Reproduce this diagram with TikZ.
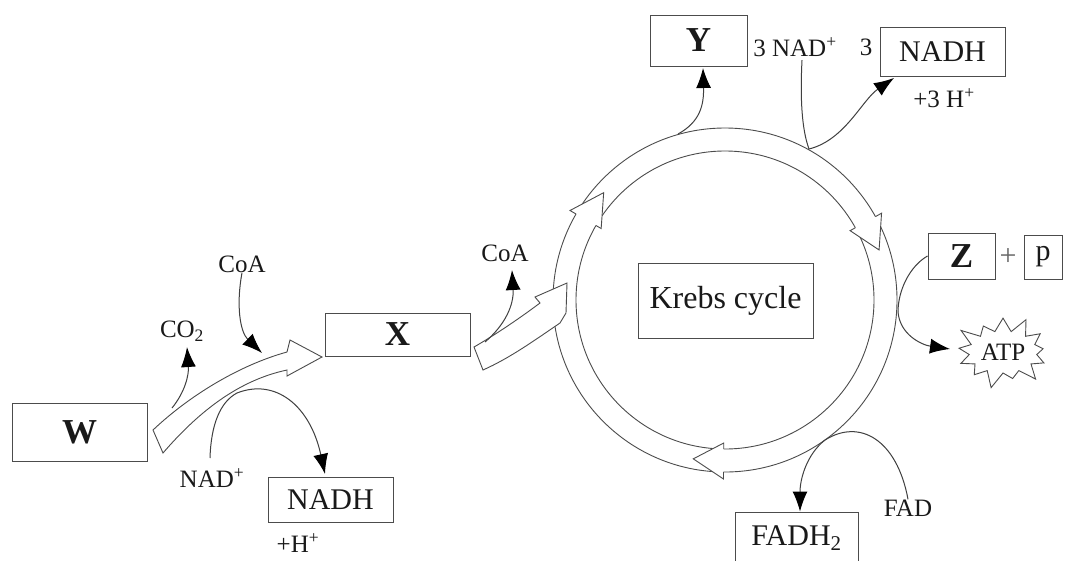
\documentclass[tikz,border=0pt]{standalone}
\usepackage{fontspec}
\setmainfont{Liberation Serif}
\usetikzlibrary{arrows.meta,shapes.symbols}
\begin{document}
\begin{tikzpicture}[x=1pt,y=-1pt,
  line width=0.9pt,
  box/.style={draw=black!70, line width=1pt, inner sep=0pt, text=black!90},
  bigbold/.style={font=\fontsize{35}{40}\selectfont\bfseries},
  bigtxt/.style={font=\fontsize{30}{36}\selectfont},
  smalltxt/.style={font=\fontsize{25}{30}\selectfont, text=black!90, inner sep=0pt},
  conn/.style={draw=black!75, line width=1pt},
  tip/.style={-{Latex[length=20pt,width=15pt,fill=black,color=black]}},
  blockarrow/.style={fill=white, draw=black!70, line width=0.9pt, line join=miter}
]
\useasboundingbox (0,0) rectangle (1065,560);
\fill[white] (0,0) rectangle (1065,560);

% ---------- boxes ----------
\node[box, bigbold, minimum width=135pt, minimum height=58pt] (W) at (79.5,432) {W};
\node[box, bigbold, minimum width=145pt, minimum height=43pt] (X) at (397.5,334.5) {X};
\node[box, bigbold, minimum width=97pt, minimum height=51pt] (Y) at (698.5,40.5) {Y};
\node[box, bigtxt, minimum width=125pt, minimum height=49pt] (NADHt) at (942.5,51.5) {NADH};
\node[box, bigtxt, minimum width=125pt, minimum height=45pt] (NADHb) at (330.5,499.5) {NADH};
\node[box, bigbold, minimum width=67pt, minimum height=46pt] (Z) at (961.5,256) {Z};
\node[box, bigtxt, minimum width=38pt, minimum height=44pt] (P) at (1043,257) {p};
\node[smalltxt, font=\fontsize{30}{36}\selectfont, text=black!60] (plus) at (1008,257) {+};
\node[box, font=\fontsize{32}{38}\selectfont, minimum width=175pt, minimum height=75pt] (K) at (725.5,300.5) {Krebs cycle};
\node[box, bigtxt, minimum width=123pt, minimum height=52pt] (FADH) at (796.5,538) {FADH\textsubscript{2}};

% ---------- labels ----------
\node[smalltxt] (co2) at (182,331) {CO\textsubscript{2}};
\node[smalltxt] (coa1) at (242,264) {CoA};
\node[smalltxt] (nadp) at (212,478) {NAD\textsuperscript{+}};
\node[smalltxt] (hp) at (298,543) {+H\textsuperscript{+}};
\node[smalltxt] (coa2) at (505,253) {CoA};
\node[smalltxt] (nad3) at (795,47) {3 NAD\textsuperscript{+}};
\node[smalltxt] (three) at (866,47) {3};
\node[smalltxt] (h3) at (944,98) {+3 H\textsuperscript{+}};
\node[smalltxt] (fad) at (908,508) {FAD};
\node[starburst, draw=black!70, fill=white, line width=0.9pt, starburst points=13,
      starburst point height=18pt, minimum width=104pt, minimum height=78pt,
      inner sep=0pt, font=\fontsize{25}{30}\selectfont, text=black!90] (ATP) at (1003,352) {ATP};

% ---------- W -> X block arrow ----------
\filldraw[blockarrow] (153,430) .. controls (190,395) and (240,365) .. (287,352)
  -- (290,340) -- (322,357) -- (287,376) -- (287,370)
  .. controls (240,380) and (200,410) .. (163,453) -- cycle;

% ---------- Krebs ring ----------
\coordinate (C) at (725,300);
\begin{scope}[shift={(C)}]
  \filldraw[fill=white, draw=black!70, line width=0.9pt, even odd rule]
    (0,0) circle[radius=172] (0,0) circle[radius=149];
  \foreach \b/\t in {210/221.5, 331/342, 90.5/101.3} {
    \filldraw[fill=white, draw=black!70, line width=0.9pt, line join=miter]
      (\b:149) -- (\b:143) -- (\t:162) -- (\b:179) -- (\b:172);
  }
\end{scope}

% ---------- X -> ring block arrow ----------
\filldraw[blockarrow] (474,347) .. controls (495,335) and (520,318) .. (540,303)
  -- (535,297) -- (567,283) -- (566,313) -- (560,323)
  .. controls (535,340) and (510,358) .. (483,370) -- cycle;

% ---------- connectors ----------
\coordinate (a1) at (172,408);
\coordinate (a1e) at (187,347);
\draw[conn,tip] (a1) .. controls (185,392) and (189,375) .. (a1e);

\coordinate (a2e) at (262,353);
\draw[conn,tip] (coa1.south) .. controls (236,305) and (240,332) .. (a2e);

\coordinate (a3) at (237,393);
\draw[conn] (210,458) .. controls (211,425) and (220,402) .. (a3);
\coordinate (a3e) at (325,474);
\draw[conn,tip] (a3) .. controls (275,378) and (310,405) .. (a3e);

\coordinate (a4) at (485,342);
\coordinate (a4e) at (512,270);
\draw[conn,tip] (a4) .. controls (505,325) and (514,305) .. (a4e);

\coordinate (a5) at (678,134);
\coordinate (a5e) at (703,68);
\draw[conn,tip] (a5) .. controls (700,122) and (704,105) .. (a5e);

\coordinate (a6) at (809,149);
\draw[conn] (nad3.south -| 802,0) ++(0,3) .. controls (800,100) and (802,130) .. (a6);
\coordinate (a6e) at (894,78);
\draw[conn,tip] (a6) .. controls (845,140) and (862,100) .. (a6e);

\coordinate (a7) at (898,312);
\draw[conn] (Z.west) .. controls (910,266) and (898,290) .. (a7);
\coordinate (a7e) at (950,349);
\draw[conn,tip] (a7) .. controls (900,335) and (922,345) .. (a7e);

\coordinate (a8) at (825,440);
\draw[conn] (fad.north) .. controls (897,440) and (860,418) .. (a8);
\draw[conn,tip] (a8) .. controls (806,455) and (800,480) .. (FADH.north -| 800,0);
\end{tikzpicture}
\end{document}
